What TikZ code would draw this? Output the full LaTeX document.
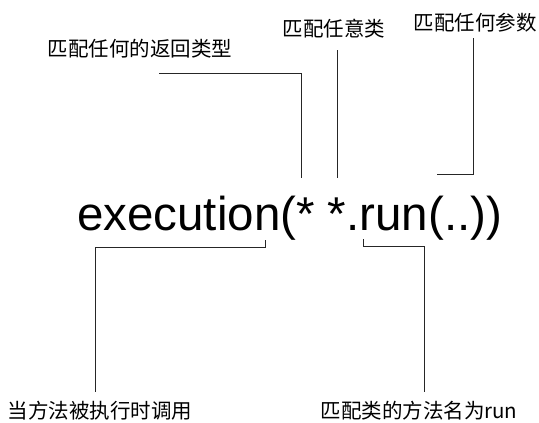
\documentclass[tikz,border=0pt]{standalone}
\usepackage{fontspec}
\setmainfont{Liberation Sans}
\newfontfamily\cjk{Noto Sans CJK SC}
\usetikzlibrary{positioning}
\tikzset{
    expr/.style = {inner sep=0pt, anchor=base west, font=\fontsize{47.5}{52}\selectfont},
    note/.style = {inner sep=0pt, font=\cjk\fontsize{20.5}{24}\selectfont},
    lead/.style = {line width=0.9pt, draw=black!85},
}

\begin{document}
\begin{tikzpicture}[x=1pt,y=-1pt]
  \useasboundingbox (0,0) rectangle (539,423);

  % the expression
  \node[expr] (expr) at (77,230) {execution(* *.run(..))};

  % labels
  \node[note] (ret)  at (140,49)  {匹配任何的返回类型};
  \node[note] (cls)  at (334,29)  {匹配任意类};
  \node[note] (args) at (475,23)  {匹配任何参数};
  \node[note] (call) at (100,411) {当方法被执行时调用};
  \node[note] (meth) at (419,411) {匹配类的方法名为run};

  % ends of the leads
  \coordinate (ret-in)  at (159,73);
  \coordinate (star1)   at (301,178);
  \coordinate (cls-in)  at (337,50);
  \coordinate (star2)   at (337,178);
  \coordinate (args-in) at (473,38);
  \coordinate (dots)    at (437,174);
  \coordinate (exec)    at (265,240);
  \coordinate (call-in) at (95,392);
  \coordinate (run)     at (363,239);
  \coordinate (meth-in) at (424,392);

  \draw[lead] (ret-in) -| (star1);
  \draw[lead] (cls-in) -- (star2);
  \draw[lead] (args-in) |- (dots);
  \draw[lead] (exec) -- ++(0,7) -| (call-in);
  \draw[lead] (run) -- ++(0,7) -| (meth-in);

\end{tikzpicture}
\end{document}
